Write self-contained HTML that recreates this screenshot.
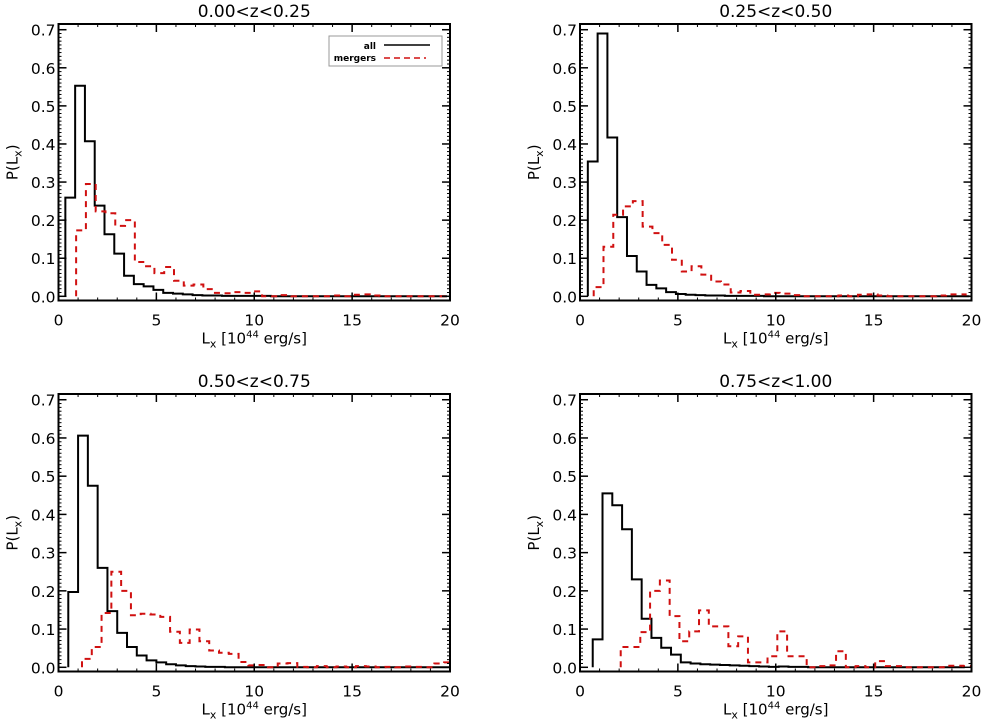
<!DOCTYPE html>
<html><head><meta charset="utf-8"><style>
body{margin:0;background:#fff}
svg text{font-family:"DejaVu Sans","Liberation Sans",sans-serif;fill:#000}
</style></head><body>
<svg id="c" width="981" height="721" xmlns="http://www.w3.org/2000/svg"></svg>
<script>
const titles=["0.00<z<0.25","0.25<z<0.50","0.50<z<0.75","0.75<z<1.00"];
const xTicks=[0,5,10,15,20];
const yTicks=[0.0,0.1,0.2,0.3,0.4,0.5,0.6,0.7];
const binWidth=0.5;
const allStart=[0.35,0.4,0.5,0.65];
const mergStart=[0.9,0.7,1.2,2.08];
const all1=[0.259,0.553,0.407,0.238,0.163,0.112,0.054,0.032,0.026,0.017,0.009,0.007,0.005,0.003,0.002,0.002,0.001,0.001,0.001,0.001,0.001,0,0,0,0,0,0,0,0,0,0,0,0,0,0,0,0,0,0];
const merg1=[0.173,0.295,0.223,0.218,0.185,0.2,0.09,0.079,0.061,0.077,0.041,0.028,0.031,0.019,0.009,0.008,0.011,0.009,0.013,0,0,0.003,0,0,0,0,0.002,0,0.004,0.005,0.002,0,0,0,0,0,0,0];
const all2=[0.354,0.69,0.417,0.208,0.106,0.065,0.03,0.021,0.011,0.006,0.004,0.003,0.002,0.002,0.001,0.001,0.001,0.001,0,0,0,0,0,0,0,0,0,0,0,0,0,0,0,0,0,0,0,0,0];
const merg2=[0.024,0.13,0.214,0.236,0.25,0.183,0.166,0.135,0.096,0.065,0.079,0.057,0.039,0.031,0.01,0.014,0.004,0.005,0.009,0.007,0.003,0,0,0,0,0.002,0,0.004,0.005,0.002,0,0,0,0,0,0.002,0.005,0.005];
const all3=[0.197,0.606,0.475,0.26,0.147,0.09,0.053,0.031,0.018,0.013,0.008,0.005,0.003,0.002,0.001,0.001,0,0,0,0,0,0,0,0,0,0,0,0,0,0,0,0,0,0,0,0,0,0,0];
const merg3=[0.022,0.053,0.142,0.25,0.2,0.136,0.14,0.138,0.132,0.093,0.064,0.099,0.068,0.044,0.038,0.035,0.014,0.005,0.006,0,0.01,0.011,0.001,0,0.003,0,0.002,0,0.003,0.002,0,0.001,0,0.002,0.001,0,0.01,0.013];
const all4=[0.073,0.455,0.424,0.361,0.23,0.127,0.077,0.051,0.033,0.013,0.01,0.008,0.007,0.006,0.005,0.004,0.003,0.002,0.001,0.002,0.001,0.001,0,0,0,0,0,0,0,0,0,0,0,0,0,0,0,0];
const merg4=[0.053,0.053,0.092,0.2,0.227,0.134,0.068,0.094,0.149,0.107,0.107,0.055,0.081,0.013,0.013,0.029,0.094,0.029,0.029,0,0.003,0.005,0.042,0,0.003,0,0.016,0.003,0.003,0,0,0,0,0.004,0.004,0.003];
const allData=[all1,all2,all3,all4];
const mergData=[merg1,merg2,merg3,merg4];
const boxes=[{l:58.5,r:450,t:24,b:300.5},{l:580,r:971.5,t:24,b:300.5},{l:58.5,r:450,t:394,b:671.5},{l:580,r:971.5,t:394,b:671.5}];
const XMIN=0,XMAX=20,YMIN=-0.011,YMAX=0.715;
const NS="http://www.w3.org/2000/svg";
const svg=document.getElementById('c');
function mk(tag,attrs,parent){const e=document.createElementNS(NS,tag);for(const k in attrs)e.setAttribute(k,attrs[k]);(parent||svg).appendChild(e);return e;}
boxes.forEach((B,i)=>{
  const g=mk('g',{});
  
  
  const sx=v=>B.l+(v-XMIN)/(XMAX-XMIN)*(B.r-B.l);
  const sy=v=>B.b-(v-YMIN)/(YMAX-YMIN)*(B.b-B.t);
  const cp='clip'+i;
  const cl=mk('clipPath',{id:cp},g);mk('rect',{x:B.l,y:B.t,width:B.r-B.l,height:B.b-B.t},cl);
  function hist(vals,start,color,dash,name){
    let d='M'+sx(start)+','+sy(0);
    vals.forEach((v,k)=>{const x0=sx(start+k*binWidth),x1=sx(start+(k+1)*binWidth);d+=' L'+x0+','+sy(v)+' L'+x1+','+sy(v);});
    d+=' L'+sx(start+vals.length*binWidth)+','+sy(0);
    const p=mk('path',{d:d,fill:'none',stroke:color,'stroke-width':2,'stroke-dasharray':dash,'clip-path':'url(#'+cp+')'},g);
    
    
  }
  hist(allData[i],allStart[i],'#000','none','all-histogram');
  hist(mergData[i],mergStart[i],'#d01010','6,5','mergers-histogram');
  const fr=mk('rect',{x:B.l,y:B.t,width:B.r-B.l,height:B.b-B.t,fill:'none',stroke:'#000','stroke-width':2},g);
  
  
  for(let v=0;v<=0.7001;v+=0.01){const y=sy(v);mk('line',{x1:B.l,x2:B.l+3,y1:y,y2:y,stroke:'#000','stroke-width':1},g);mk('line',{x1:B.r,x2:B.r-3,y1:y,y2:y,stroke:'#000','stroke-width':1},g);}
  for(let v=1;v<20;v++){const x=sx(v);mk('line',{x1:x,x2:x,y1:B.b,y2:B.b-3,stroke:'#000'},g);mk('line',{x1:x,x2:x,y1:B.t,y2:B.t+3,stroke:'#000'},g);}
  yTicks.forEach(v=>{const y=sy(v);
    mk('line',{x1:B.l,x2:B.l+8,y1:y,y2:y,stroke:'#000','stroke-width':1.5},g);mk('line',{x1:B.r,x2:B.r-8,y1:y,y2:y,stroke:'#000','stroke-width':1.5},g);
    const t=mk('text',{x:B.l-3,y:y+6,'text-anchor':'end','font-size':15.5},g);t.textContent=v.toFixed(1);
    
    });
  xTicks.forEach(v=>{const x=sx(v);
    mk('line',{x1:x,x2:x,y1:B.b,y2:B.b-8,stroke:'#000','stroke-width':1.5},g);mk('line',{x1:x,x2:x,y1:B.t,y2:B.t+8,stroke:'#000','stroke-width':1.5},g);
    const t=mk('text',{x:x,y:B.b+25,'text-anchor':'middle','font-size':15.5},g);t.textContent=v;
    
    });
  const ti=mk('text',{x:(B.l+B.r)/2,y:B.t-7,'text-anchor':'middle','font-size':17},g);ti.textContent=titles[i];
  
  
  const xl=mk('text',{x:(B.l+B.r)/2,y:B.b+43,'text-anchor':'middle','font-size':15},g);
  xl.innerHTML='L<tspan font-size="11" dy="4">x</tspan><tspan dy="-4"> [10</tspan><tspan font-size="10" dy="-6">44</tspan><tspan dy="6"> erg/s]</tspan>';
  
  
  const yx=B.l-41, yy=(B.t+B.b)/2;
  const yl=mk('text',{x:yx,y:yy,'text-anchor':'middle','font-size':15,transform:'rotate(-90 '+yx+' '+yy+')'},g);
  yl.innerHTML='P(L<tspan font-size="11" dy="4">x</tspan><tspan dy="-4">)</tspan>';
  
  
});
const lg=mk('g',{});


mk('rect',{x:329,y:36,width:113,height:30,fill:'#fff',stroke:'#999','stroke-width':1},lg);
const la=mk('text',{x:376,y:49,'text-anchor':'end','font-size':9,'font-weight':'bold'},lg);la.textContent='all';


mk('line',{x1:384,x2:430,y1:45,y2:45,stroke:'#000','stroke-width':1.5},lg);
const lm=mk('text',{x:376,y:61,'text-anchor':'end','font-size':9,'font-weight':'bold'},lg);lm.textContent='mergers';


mk('line',{x1:384,x2:426,y1:58,y2:58,stroke:'#d01010','stroke-width':1.5,'stroke-dasharray':'6,4'},lg);
</script>
</body></html>
